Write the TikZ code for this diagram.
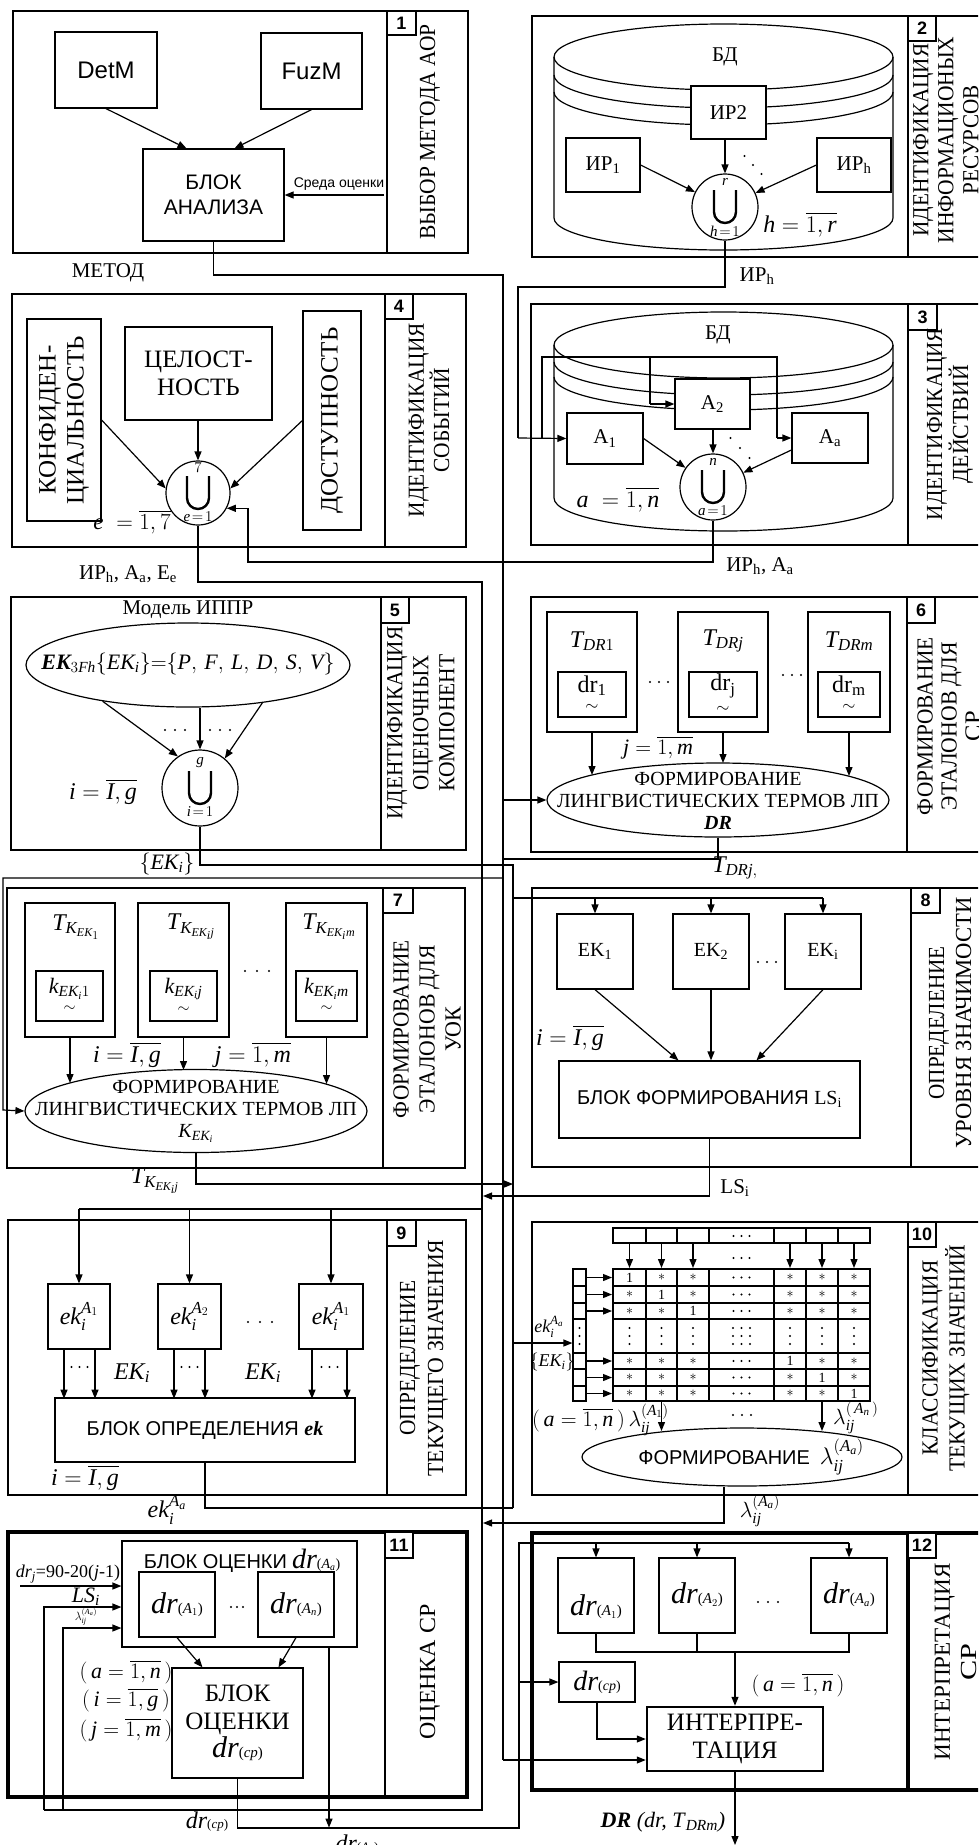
\RequirePackage{fix-cm}
\documentclass[tikz,border=0pt]{standalone}
\usepackage{amsmath}
\usepackage{graphicx}
\usepackage{fontspec}
\setmainfont{Liberation Serif}
\setsansfont{Liberation Sans}
\newfontfamily\tnrfam{Liberation Serif}[NFSSFamily=tnr]
\DeclareSymbolFont{tletters}{TU}{tnr}{m}{it}
\SetSymbolFont{tletters}{bold}{TU}{tnr}{b}{it}
\DeclareSymbolFont{tdigits}{TU}{tnr}{m}{n}
\newcommand{\mkl}[1]{\DeclareMathSymbol{#1}{\mathalpha}{tletters}{`#1}}
\newcommand{\mkd}[1]{\DeclareMathSymbol{#1}{\mathalpha}{tdigits}{`#1}}
\mkl a\mkl b\mkl c\mkl d\mkl e\mkl f\mkl g\mkl h\mkl i\mkl j\mkl k\mkl l\mkl m
\mkl n\mkl o\mkl p\mkl q\mkl r\mkl s\mkl t\mkl u\mkl v\mkl w\mkl x\mkl y\mkl z
\mkl A\mkl B\mkl C\mkl D\mkl E\mkl F\mkl G\mkl H\mkl I\mkl J\mkl K\mkl L\mkl M
\mkl N\mkl O\mkl P\mkl Q\mkl R\mkl S\mkl T\mkl U\mkl V\mkl W\mkl X\mkl Y\mkl Z
\mkd 0\mkd 1\mkd 2\mkd 3\mkd 4\mkd 5\mkd 6\mkd 7\mkd 8\mkd 9
\usetikzlibrary{arrows.meta,calc,shapes.geometric}
\newcommand{\fs}[2]{\fontsize{#1}{#2}\selectfont}
\newcommand{\bx}[7][]{\node[box,minimum width={(#5)-(#3)},minimum height={(#6)-(#4)},#1] (#2) at ({((#3)+(#5))/2},{((#4)+(#6))/2}) {#7};}
\newcommand{\unode}[6]{%
  \node[draw,circle,line width=1.2pt,fill=white,minimum size={2*(#4)},inner sep=0pt] (#1) at (#2,#3) {};
  \draw[line width=2.4pt] ({#2-11},{#3-17}) -- ({#2-11},{#3+5}) arc[start angle=180,end angle=0,radius=11] -- ({#2+11},{#3-17});
  \node[font=\fs{15}{15},inner sep=0pt] at ({#2},{#3-25}) {#5};
  \node[font=\fs{15}{15},inner sep=0pt] at ({#2},{#3+24}) {#6};}
\newcommand{\tdots}[4]{\foreach \ii in {-1,0,1}{\fill ({#1+\ii*(#3)},{#2+\ii*(#4)}) circle[radius=1.2];}}
\newcommand{\sidelbl}[4][26]{\node[rotate=90,align=center,inner sep=0pt,font=\fs{23}{#1}] at (#2,#3) {#4};}
\newcommand{\sln}[2]{\resizebox{#1pt}{\height}{#2}}
\newcommand{\drx}[3]{{\fs{#1}{#1}$dr$}{\fs{#2}{#2}(#3)}}
\newcommand{\astk}{\raisebox{-2pt}{$\ast$}}
\newcommand{\trow}[7]{\foreach \xx/\vv in {629.5/#2,661.5/#3,693/#4,790/#5,822/#6,854/#7}{\node[inner sep=0pt,font=\fs{14}{14}] at (\xx,#1) {\vv};}\tdots{741.5}{#1}{8}{0}}
\begin{document}
\begin{tikzpicture}[x=1pt,y=-1pt,
  ln/.style={line width=1.2pt},
  thickframe/.style={line width=3.5pt},
  arr/.style={line width=1.2pt,-{Triangle[length=9pt,width=7pt]}},
  box/.style={draw,line width=1.2pt,fill=white,inner sep=0pt,align=center},
  numb/.style={box,font=\fs{18}{18}\sffamily\bfseries},
  lbl/.style={inner sep=0pt,align=center},
  sf/.style={font=\fs{21}{25}\sffamily},
]
\useasboundingbox (0,0) rectangle (978,1845);
\clip (0,0) rectangle (978,1845);
\fill[white] (0,0) rectangle (978,1845);

% ================= BLOCK 1
\draw[ln] (13,11) rectangle (468,253) (387,11) -- (387,253);
\bx[numb]{n1}{387}{11}{416}{35}{1}
\sidelbl{430}{132}{\sln{215}{ВЫБОР МЕТОДА АОР}}
\bx[font=\fs{24}{24}\sffamily]{detm}{55}{32}{157}{108}{DetM}
\bx[font=\fs{24}{24}\sffamily]{fuzm}{261}{33}{362}{109}{FuzM}
\bx[sf]{anal}{143}{149}{284}{241}{БЛОК\\АНАЛИЗА}
\draw[arr] (detm.south) -- ($(anal.north)+(-27,0)$);
\draw[arr] (fuzm.south) -- ($(anal.north)+(21,0)$);
\coordinate (sred) at (384,195);
\draw[arr] (sred) -- (anal.east |- sred);
\node[lbl,font=\fs{14}{14}\sffamily] at (339,184) {Среда оценки};
\node[lbl,font=\fs{21}{21}] at (108,273) {МЕТОД};

% ================= BLOCK 2
\draw[ln] (532,16) rectangle (1000,257) (908,16) -- (908,257);
\bx[numb]{n2}{908}{16}{936}{41}{2}
\sidelbl[25]{946}{140}{\sln{193}{ИДЕНТИФИКАЦИЯ}\\\sln{207}{ИНФОРМАЦИОНЫХ}\\\sln{109}{РЕСУРСОВ}}
\draw[ln] (723.5,57) ellipse[x radius=169.5,y radius=33];
\draw[ln] (554,75) arc[start angle=180,end angle=0,x radius=169.5,y radius=33];
\draw[ln] (554,92) arc[start angle=180,end angle=0,x radius=169.5,y radius=33];
\draw[ln] (554,57) -- (554,218) arc[start angle=180,end angle=0,x radius=169.5,y radius=32] -- (893,57);
\node[lbl,font=\fs{21}{21}] at (725,57) {БД};
\bx[font=\fs{21}{21}]{ir2}{691}{86}{766}{139}{ИР2}
\bx[font=\fs{21}{21}]{ir1}{566}{138}{640}{192}{ИР\textsubscript{1}}
\bx[font=\fs{21}{21}]{irh}{817}{138}{891}{192}{ИР\textsubscript{h}}
\unode{c2}{725}{207}{33}{$r$}{$h\!=\!1$}
\draw[arr] (ir1.east) -- (c2);
\draw[arr] (irh.west) -- (c2);
\draw[arr] (c2.north |- ir2.south) -- (c2.north);
\tdots{753}{165}{8.5}{9}
\node[lbl,font=\fs{24}{24}] at (800,225) {$h=\overline{1,r}$};
\node[lbl,font=\fs{21}{21}] at (757,276) {ИР\textsubscript{h}};

% ================= BLOCK 3
\draw[ln] (531,304) rectangle (1000,545) (908,304) -- (908,545);
\bx[numb]{n3}{908}{304}{937}{330}{3}
\sidelbl{950}{424}{\sln{192}{ИДЕНТИФИКАЦИЯ}\\\sln{118}{ДЕЙСТВИЙ}}
\draw[ln] (723.5,345) ellipse[x radius=169.5,y radius=33];
\draw[ln] (554,362) arc[start angle=180,end angle=0,x radius=169.5,y radius=33];
\draw[ln] (554,377) arc[start angle=180,end angle=0,x radius=169.5,y radius=33];
\draw[ln] (554,345) -- (554,498) arc[start angle=180,end angle=0,x radius=169.5,y radius=33] -- (893,345);
\node[lbl,font=\fs{21}{21}] at (718,335) {БД};
\draw[ln] (c2.south) |- (518,287) -- (518,438);
\draw[ln] (542,438) -- (542,357) -- (777,357) -- (777,438);
\draw[ln] (650,357) -- (650,404);
\bx[font=\fs{21}{21}]{a1}{567}{413}{643}{464}{A\textsubscript{1}}
\bx[font=\fs{21}{21}]{a2}{675}{379}{750}{429}{A\textsubscript{2}}
\bx[font=\fs{21}{21}]{aa}{792}{413}{868}{463}{A\textsubscript{a}}
\draw[arr] (518,438) -- (a1.west);
\draw[arr] (777,438) -- (aa.west);
\draw[arr] (650,404) -- (a2.west);
\unode{c3}{713}{487}{33}{$n$}{$a\!=\!1$}
\draw[arr] (a1.east) -- (c3);
\draw[arr] ($(aa.west)+(0,12)$) -- (c3);
\draw[arr] (c3.north |- a2.south) -- (c3.north);
\tdots{740}{448}{9.5}{10}
\node[lbl,font=\fs{24}{24}] at (618,500) {$a\;=\overline{1,n}$};
\node[lbl,font=\fs{21}{21}] at (760,566) {ИР\textsubscript{h}, А\textsubscript{a}};

% ================= BLOCK 4
\draw[ln] (12,294) rectangle (466,547) (385,294) -- (385,547);
\bx[numb]{n4}{385}{294}{413}{319}{4}
\sidelbl[22]{429}{420}{\sln{194}{ИДЕНТИФИКАЦИЯ}\\\sln{105}{СОБЫТИЙ}}
\bx{konf}{27}{319}{101}{521}{}
\node[rotate=90,lbl,font=\fs{25}{28}] at (konf) {КОНФИДЕН-\\ЦИАЛЬНОСТЬ};
\bx[font=\fs{25}{28}]{cel}{125}{327}{272}{420}{ЦЕЛОСТ-\\НОСТЬ}
\bx{dost}{303}{311}{361}{530}{}
\node[rotate=90,lbl,font=\fs{25}{28}] at (dost) {ДОСТУПНОСТЬ};
\unode{c4}{198}{493}{32}{$7$}{$e\!=\!1$}
\draw[arr] (konf.east) -- (c4.172);
\draw[arr] (c4.north |- cel.south) -- (c4.north);
\draw[arr] (dost.west) -- (c4.8);
\node[lbl,font=\fs{23}{23}] at (132,522) {$e\;=\overline{1,7}$};
\draw[arr] (c3.south) |- (248,562) |- (c4.-28);
\draw[ln] (c4.south) |- (482,582) -- (482,1810) -- (44,1810);
\node[lbl,font=\fs{21}{21}] at (128,574) {ИР\textsubscript{h}, А\textsubscript{a}, Е\textsubscript{e}};

% ================= BLOCK 5
\draw[ln] (11,597) rectangle (466,850) (381,597) -- (381,850);
\bx[numb]{n5}{381}{597}{409}{623}{5}
\sidelbl{421}{723}{\sln{193}{ИДЕНТИФИКАЦИЯ}\\\sln{135}{ОЦЕНОЧНЫХ}\\\sln{137}{КОМПОНЕНТ}}
\node[lbl,font=\fs{21}{21}] at (188,610) {Модель ИППР};
\node[draw,ellipse,ln,minimum width=324,minimum height=84,inner sep=0pt] (ell5) at (188,665) {};
\node[lbl,font=\fs{22}{22}] at (188,664) {$\boldsymbol{EK}_{3Fh}\{EK_i\}{=}\{P,\,F,\,L,\,D,\,S,\,V\}$};
\unode{c5}{200}{788}{38}{$g$}{$i\!=\!1$}
\draw[arr] (ell5.203) -- (c5.125);
\draw[arr] (c5.north |- ell5.south) -- (c5.north);
\draw[arr] (ell5.333) -- (c5.50);
\tdots{175}{730}{10}{0}
\tdots{220}{730}{10}{0}
\node[lbl,font=\fs{24}{24}] at (103,792) {$i=\overline{I,g}$};
\draw[ln] (c5.south) |- (513,865) -- (513,1508);
\node[lbl,font=\fs{22}{22}] at (167,864) {$\{EK_i\}$};

% ================= BLOCK 6
\draw[ln] (531,597) rectangle (1000,852) (907,597) -- (907,852);
\bx[numb]{n6}{907}{597}{935}{623}{6}
\sidelbl[24]{949}{726}{\sln{178}{ФОРМИРОВАНИЕ}\\\sln{168}{ЭТАЛОНОВ ДЛЯ}\\\sln{30}{СР}}
\bx{t61}{547}{612}{637}{732}{}
\bx{t62}{678}{612}{768}{732}{}
\bx{t63}{808}{612}{890}{732}{}
\node[lbl,font=\fs{24}{24}] at (592,641) {$T_{DR1}$};
\node[lbl,font=\fs{24}{24}] at (723,641) {$T_{DRj}$};
\node[lbl,font=\fs{24}{24}] at (849,641) {$T_{DRm}$};
\bx[font=\fs{24}{24}]{d61}{558}{672}{626}{717}{$\underset{\sim}{\text{dr}_{\text{1}}}$}
\bx[font=\fs{24}{24}]{d62}{689}{672}{757}{717}{$\underset{\sim}{\text{dr}_{\text{j}}}$}
\bx[font=\fs{24}{24}]{d63}{818}{672}{880}{717}{$\underset{\sim}{\text{dr}_{\text{m}}}$}
\tdots{659}{682}{9}{0}
\tdots{792}{675}{9}{0}
\node[draw,ellipse,ln,minimum width=342,minimum height=74,inner sep=0pt] (ell6) at (718,800) {};
\node[lbl,font=\fs{20}{22}] at (718,801) {ФОРМИРОВАНИЕ\\ЛИНГВИСТИЧЕСКИХ ТЕРМОВ ЛП\\\textbf{\textit{DR}}};
\draw[arr] (t61.south) -- (t61.south |- 0,775);
\draw[arr] (t62.south) -- (t62.south |- 0,763);
\draw[arr] (t63.south) -- (t63.south |- 0,776);
\node[lbl,font=\fs{22}{22}] at (658,748) {$j=\overline{1,m}$};
\node[lbl,font=\fs{24}{24}] at (735,868) {$T_{DRj,}$};

% ================= BLOCK 7
\draw[ln] (7,888) rectangle (465,1168) (383,888) -- (383,1168);
\bx[numb]{n7}{383}{888}{413}{913}{7}
\sidelbl{427}{1029}{\sln{178}{ФОРМИРОВАНИЕ}\\\sln{168}{ЭТАЛОНОВ ДЛЯ}\\\sln{45}{УОК}}
\bx{t71}{25}{903}{115}{1037}{}
\bx{t72}{138}{903}{229}{1037}{}
\bx{t73}{286}{903}{367}{1037}{}
\node[lbl,font=\fs{24}{24}] at (76,927) {$T_{K_{EK_1}}$};
\node[lbl,font=\fs{24}{24}] at (191,927) {$T_{K_{EK_i j}}$};
\node[lbl,font=\fs{24}{24}] at (329,927) {$T_{K_{EK_i m}}$};
\bx[font=\fs{22}{22}]{k71}{36}{971}{103}{1021}{$\underset{\sim}{k_{EK_i1}}$}
\bx[font=\fs{22}{22}]{k72}{150}{971}{217}{1021}{$\underset{\sim}{k_{EK_ij}}$}
\bx[font=\fs{22}{22}]{k73}{296}{971}{357}{1021}{$\underset{\sim}{k_{EK_im}}$}
\tdots{257}{971}{12}{0}
\node[draw,ellipse,ln,minimum width=342,minimum height=83,inner sep=0pt] (ell7) at (196,1111) {};
\node[lbl,font=\fs{20}{22}] at (196,1111) {ФОРМИРОВАНИЕ\\ЛИНГВИСТИЧЕСКИХ ТЕРМОВ ЛП\\$K_{EK_i}$};
\draw[arr] (t71.south) -- (t71.south |- 0,1083);
\draw[arr] (t72.south) -- (t72.south |- 0,1070);
\draw[arr] (t73.south) -- (t73.south |- 0,1084);
\node[lbl,font=\fs{24}{24}] at (127,1055) {$i=\overline{I,g}$};
\node[lbl,font=\fs{24}{24}] at (253,1055) {$j=\overline{1,m}$};
\draw[ln] (anal.south) |- (503,275) -- (503,1760);
\draw[arr] (503,878) -- (3,878) -- (3,1110) -- (ell7.west);
\draw[arr] (503,800) -- (ell6.west);
\draw[ln] (ell6.south) |- (503,859);
\draw[arr] (ell7.south) |- (513,1184);
\node[lbl,font=\fs{24}{24}] at (155,1181) {$T_{K_{EK_i j}}$};

% ================= BLOCK 8
\draw[ln] (532,888) rectangle (1000,1167) (911,888) -- (911,1167);
\bx[numb]{n8}{911}{888}{940}{913}{8}
\sidelbl[27]{950}{1023}{\sln{153}{ОПРЕДЕЛЕНИЕ}\\\sln{251}{УРОВНЯ ЗНАЧИМОСТИ}}
\bx[font=\fs{20}{20}]{e81}{557}{914}{633}{989}{EK\textsubscript{1}}
\bx[font=\fs{20}{20}]{e82}{673}{914}{749}{989}{EK\textsubscript{2}}
\bx[font=\fs{20}{20}]{e83}{785}{914}{861}{989}{EK\textsubscript{i}}
\tdots{767}{962}{9}{0}
\draw[ln] (513,898) -- (e83.north |- 0,898);
\foreach \bb in {e81,e82,e83} \draw[arr] (\bb.north |- 0,898) -- (\bb.north);
\bx[font=\fs{20}{20}\sffamily]{ls}{559}{1061}{860}{1138}{БЛОК ФОРМИРОВАНИЯ {\rmfamily LS\textsubscript{i}}}
\draw[arr] (e81.south) -- ($(ls.north)+(-31,0)$);
\draw[arr] (e82.south) -- (e82.south |- ls.north);
\draw[arr] (e83.south) -- ($(ls.north)+(47,0)$);
\node[lbl,font=\fs{24}{24}] at (570,1038) {$i=\overline{I,g}$};
\draw[arr] (ls.south) |- (483,1196);
\node[lbl,font=\fs{21}{21}] at (735,1188) {LS\textsubscript{i}};

% ================= BLOCK 9
\draw[ln] (8,1220) rectangle (466,1495) (387,1220) -- (387,1495);
\bx[numb]{n9}{387}{1220}{416}{1246}{9}
\sidelbl[28]{424}{1358}{\sln{155}{ОПРЕДЕЛЕНИЕ}\\\sln{237}{ТЕКУЩЕГО ЗНАЧЕНИЯ}}
\bx[font=\fs{24}{24}]{k91}{48}{1284}{110}{1349}{$ek_i^{A_1}$}
\bx[font=\fs{24}{24}]{k92}{158}{1284}{221}{1349}{$ek_i^{A_2}$}
\bx[font=\fs{24}{24}]{k93}{299}{1284}{363}{1349}{$ek_i^{A_1}$}
\draw[ln] (482,1209) -- (k91.north |- 0,1209);
\foreach \bb in {k91,k92,k93} \draw[arr] (\bb.north |- 0,1209) -- (\bb.north);
\tdots{260}{1322}{12}{0}
\bx[font=\fs{20}{20}\sffamily]{bd}{55}{1398}{355}{1462}{БЛОК ОПРЕДЕЛЕНИЯ {\rmfamily\bfseries\itshape ek}}
\foreach \bb/\dd in {k91/-15,k91/16,k92/-15.5,k92/15.5,k93/-19,k93/16} \draw[arr] ($(\bb.south)+(\dd,0)$) -- ($(\bb.south)+(\dd,49)$);
\tdots{79.5}{1367}{8}{0}
\tdots{189.5}{1367}{8}{0}
\tdots{329.5}{1367}{8}{0}
\node[lbl,font=\fs{24}{24}] at (132,1373) {$EK_i$};
\node[lbl,font=\fs{24}{24}] at (263,1373) {$EK_i$};
\node[lbl,font=\fs{24}{24}] at (85,1478) {$i=\overline{I,g}$};
\draw[ln] (bd.south) |- (513,1508);
\node[lbl,font=\fs{24}{24}] at (167,1510) {$ek_i^{A_a}$};

% ================= BLOCK 10
\draw[ln] (532,1222) rectangle (1000,1495) (908,1222) -- (908,1495);
\bx[numb]{n10}{908}{1222}{936}{1247}{10}
\sidelbl[27]{946}{1358}{\sln{195}{КЛАССИФИКАЦИЯ}\\\sln{227}{ТЕКУЩИХ ЗНАЧЕНИЙ}}
\draw[ln] (613,1228) rectangle (870,1243);
\foreach \x in {646,677,709,774,806,838} \draw[ln] (\x,1228) -- (\x,1243);
\tdots{741.5}{1236}{8}{0}
\foreach \x in {629.5,661.5,693,790,822,854} \draw[arr] (\x,1243) -- (\x,1268);
\tdots{741.5}{1258}{8}{0}
\draw[ln] (613,1269) rectangle (870,1401);
\foreach \x in {646,677,709,774,806,838} \draw[ln] (\x,1269) -- (\x,1401);
\foreach \y in {1286,1303,1319,1353,1369,1386} \draw[ln] (613,\y) -- (870,\y);
\bx{vec}{573}{1269}{586}{1401}{}
\foreach \y in {1286,1303,1319,1353,1369,1386} \draw[ln] (573,\y) -- (586,\y);
\foreach \y in {1277.5,1294.5,1311,1361,1377.5,1393.5} \draw[arr] (587,\y) -- (612,\y);
\trow{1277.5}{1}{\astk}{\astk}{\astk}{\astk}{\astk}
\trow{1294.5}{\astk}{1}{\astk}{\astk}{\astk}{\astk}
\trow{1311}{\astk}{\astk}{1}{\astk}{\astk}{\astk}
\trow{1361}{\astk}{\astk}{\astk}{1}{\astk}{\astk}
\trow{1377.5}{\astk}{\astk}{\astk}{\astk}{1}{\astk}
\trow{1393.5}{\astk}{\astk}{\astk}{\astk}{\astk}{1}
\foreach \x in {579.5,629.5,661.5,693,733,741.5,750,790,822,854} \tdots{\x}{1336}{0}{8};
\draw[arr] (513,1343) -- (vec.west |- 0,1343);
\node[lbl,font=\fs{18}{18}] at (549,1327) {$ek_i^{A_a}$};
\node[lbl,font=\fs{18}{18}] at (552,1362) {$\{EK_i\}$};
\node[draw,ellipse,ln,minimum width=320,minimum height=58,inner sep=0pt] (ell10) at (742,1457) {};
\node[lbl,font=\fs{20}{20}\sffamily] at (751,1457) {ФОРМИРОВАНИЕ\enspace{\fs{24}{24}$\lambda_{ij}^{(A_a)}$}};
\draw[arr] (661.5,1401) -- (661.5,1431);
\draw[arr] (822,1401) -- (822,1431);
\tdots{742}{1415}{9}{0}
\node[lbl,font=\fs{22}{22},anchor=west] at (532,1420) {$(\,a=\overline{1,n}\,)\,\lambda_{ij}^{(A_1)}$};
\node[lbl,font=\fs{22}{22},anchor=west] at (833,1418) {$\lambda_{ij}^{(\,A_n\,)}$};
\draw[arr] ($(ell10.south)+(-18,0)$) |- (483,1523);
\node[lbl,font=\fs{22}{22}] at (760,1511) {$\lambda_{ij}^{(A_a)}$};

% ================= BLOCK 11
\draw[thickframe] (8,1532) rectangle (467,1797);
\draw[line width=2pt] (385,1532) -- (385,1797);
\bx[numb]{n11}{385}{1532}{413}{1558}{11}
\sidelbl{430}{1672}{\sln{135}{ОЦЕНКА СР}}
\bx{bo}{122}{1541}{357}{1647}{}
\node[lbl] at (242,1561) {{\fs{20}{20}\sffamily БЛОК ОЦЕНКИ}\enspace\drx{28}{14}{$A_a$}};
\bx{b1}{139}{1572}{215}{1637}{\drx{30}{15}{$A_1$}}
\bx{b2}{258}{1572}{334}{1637}{\drx{30}{15}{$A_n$}}
\tdots{237}{1607}{6}{0}
\bx[font=\fs{25}{28}]{bcp}{172}{1668}{303}{1778}{БЛОК\\ОЦЕНКИ\\\drx{30}{15}{\textit{ср}}}
\draw[arr] (b1.south) -- ($(bcp.north)+(-35,0)$);
\draw[arr] (b2.south) -- ($(bcp.north)+(41,0)$);
\node[lbl,font=\fs{22}{22}] at (126,1672) {$(\,a=\overline{1,n}\,)$};
\node[lbl,font=\fs{22}{22}] at (126,1700) {$(\,i=\overline{1,g}\,)$};
\node[lbl,font=\fs{22}{22}] at (126,1730) {$(\,j=\overline{1,m}\,)$};
\node[lbl,font=\fs{18}{18}] at (68,1574) {$dr_j$=90-20($j$-1)};
\draw[arr] (20,1586) -- (bo.west |- 0,1586);
\node[lbl,font=\fs{22}{22}] at (86,1597) {$LS_i$};
\draw[arr] (44,1810) -- (44,1607) -- (bo.west |- 0,1607);
\node[lbl,font=\fs{12}{12}] at (86,1617) {$\lambda_{ij}^{(A_a)}$};
\draw[arr] (63,1810) -- (63,1628) -- (bo.west |- 0,1628);
\draw[arr] ($(bo.south)+(89.5,0)$) -- ($(bo.south)+(89.5,180)$);
\node[lbl] at (207,1822) {\drx{24}{13}{\textit{ср}}};
\node[lbl] at (357,1845) {\drx{24}{13}{$A_a$}};

% ================= BLOCK 12
\draw[thickframe] (532,1533) rectangle (1000,1790) (908,1533) -- (908,1790);
\bx[numb]{n12}{908}{1533}{936}{1558}{12}
\sidelbl[27]{956}{1662}{\sln{197}{ИНТЕРПРЕТАЦИЯ}\\\sln{37}{СР}}
\bx{r1}{558}{1558}{634}{1633}{}
\bx{r2}{659}{1558}{735}{1633}{}
\bx{r3}{811}{1558}{887}{1633}{}
\node[lbl] at (596,1607) {\drx{30}{15}{$A_1$}};
\node[lbl] at (697,1595) {\drx{30}{15}{$A_2$}};
\node[lbl] at (849,1595) {\drx{30}{15}{$A_a$}};
\tdots{768}{1602}{10}{0}
\bx[line width=2.5pt,font=\fs{25}{28}]{interp}{647}{1707}{823}{1771}{ИНТЕРПРЕ-\\ТАЦИЯ}
\bx{rcp}{559}{1662}{635}{1702}{\drx{28}{14}{\textit{ср}}}
\draw[ln] (bcp.south) |- (519,1828) -- (519,1543) -- (r3.north |- 0,1543);
\foreach \bb in {r1,r2,r3} \draw[arr] (\bb.north |- 0,1543) -- (\bb.north);
\draw[ln] (r1.south) |- (r3.south |- 0,1652) -- (r3.south);
\draw[ln] (r2.south) -- (r2.south |- 0,1652);
\draw[arr] (interp.north |- 0,1652) -- (interp.north);
\node[lbl,font=\fs{22}{22}] at (798,1685) {$(\,a=\overline{1,n}\,)$};
\draw[arr] (519,1682) -- (rcp.west);
\draw[arr] (rcp.south) |- (interp.west);
\draw[arr] (503,1760) -- (interp.west |- 0,1760);
\draw[arr] (interp.south) -- (interp.south |- 0,1845);
\node[lbl,font=\fs{22}{22}] at (663,1822) {\textbf{\textit{DR}} \textit{(dr, T}\textsubscript{\textit{DRm}}\textit{)}};
\end{tikzpicture}
\end{document}
